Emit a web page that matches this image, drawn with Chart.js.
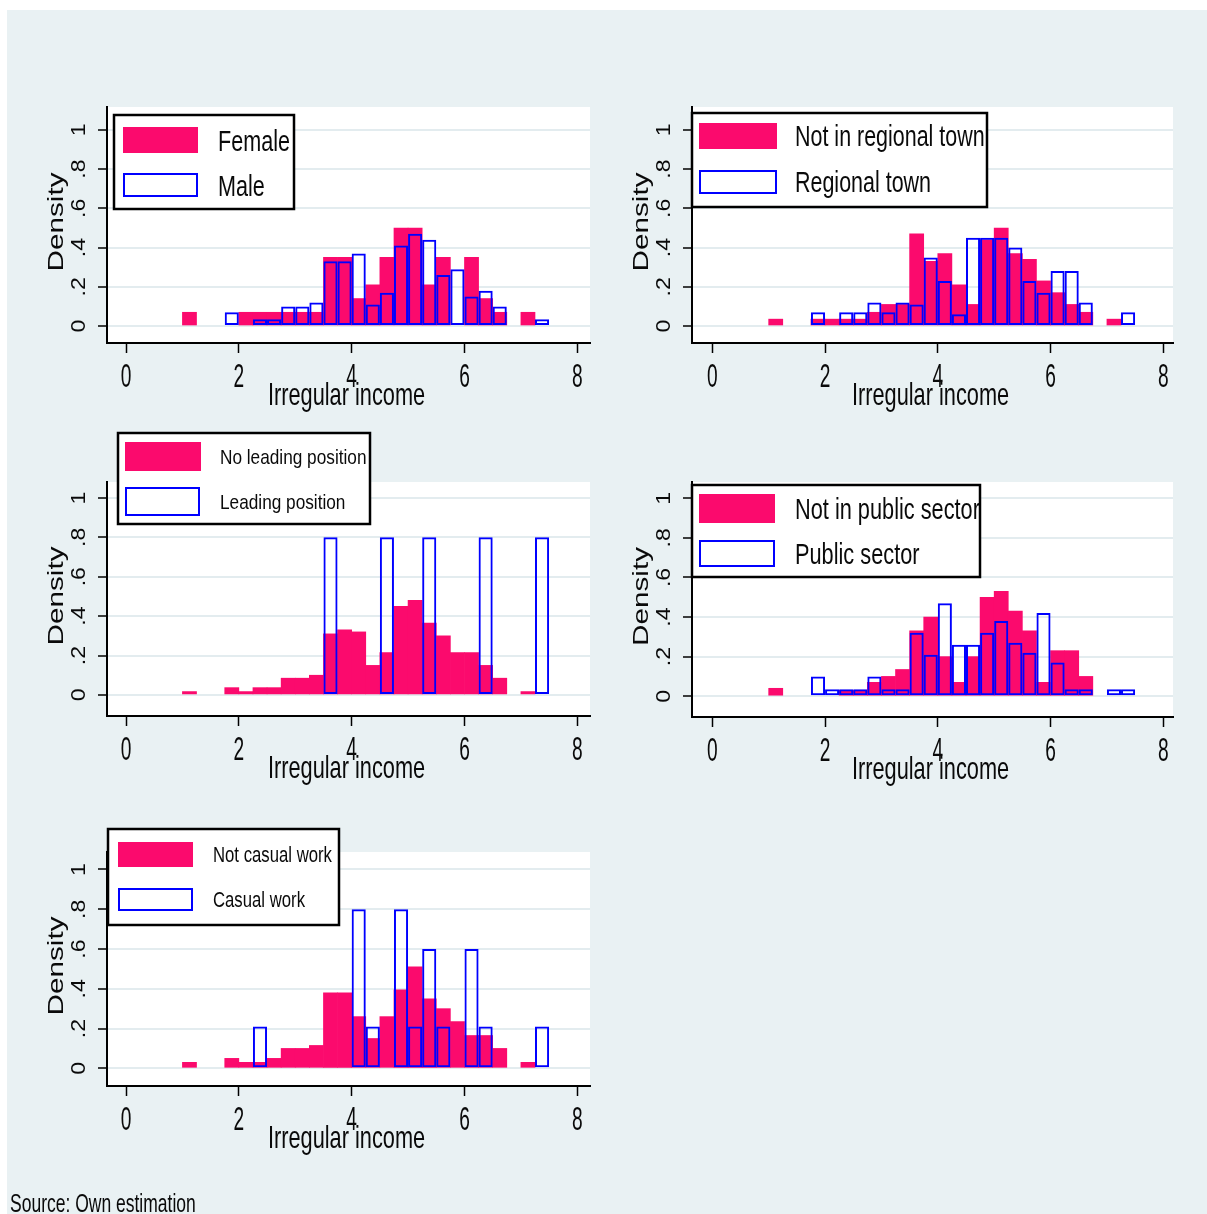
<!DOCTYPE html>
<html>
<head>
<meta charset="utf-8">
<script src="https://cdn.jsdelivr.net/npm/chart.js@4.4.1/dist/chart.umd.min.js"></script>
<style>
html,body{margin:0;padding:0;background:#ffffff;}
#page{position:relative;width:1207px;height:1214px;overflow:hidden;background:#ffffff;}
#bg{position:absolute;left:7px;top:10px;width:1200px;height:1204px;background:#e9f1f3;}
canvas{position:absolute;}
</style>
</head>
<body>
<div id="page">
<div id="bg"></div>
<canvas id="c1"></canvas>
<canvas id="c2"></canvas>
<canvas id="c3"></canvas>
<canvas id="c4"></canvas>
<canvas id="c5"></canvas>
</div>
<script>
// ---------------- data ----------------
const BIN_CENTERS = [1.125,1.375,1.625,1.875,2.125,2.375,2.625,2.875,3.125,3.375,3.625,3.875,4.125,4.375,4.625,4.875,5.125,5.375,5.625,5.875,6.125,6.375,6.625,6.875,7.125,7.375];
const X_TICKS = [0,2,4,6,8];
const X_TICK_LABELS = ['0','2','4','6','8'];
const Y_TICKS = [0,0.2,0.4,0.6,0.8,1];
const Y_TICK_LABELS = ['0','.2','.4','.6','.8','1'];
const X_TITLE = 'Irregular income';
const Y_TITLE = 'Density';
const SOURCE_NOTE = 'Source: Own estimation';

const FEMALE       = [0.07,0,0,0,0.07,0.07,0.07,0.07,0.07,0.07,0.35,0.35,0.14,0.21,0.35,0.50,0.50,0.21,0.35,0,0.35,0.14,0.07,0,0.07,0];
const MALE         = [0,0,0,0.07,0,0.035,0.035,0.10,0.10,0.12,0.33,0.33,0.37,0.11,0.17,0.41,0.47,0.44,0.26,0.29,0.15,0.18,0.10,0,0,0.035];
const NOT_REGIONAL = [0.035,0,0,0.035,0.035,0.035,0.035,0.07,0.11,0.11,0.47,0.33,0.37,0.21,0.11,0.44,0.50,0.37,0.34,0.23,0.17,0.11,0.07,0,0.035,0];
const REGIONAL     = [0,0,0,0.07,0,0.07,0.07,0.12,0.07,0.12,0.11,0.35,0.23,0.06,0.45,0.45,0.45,0.40,0.23,0.17,0.28,0.28,0.12,0,0,0.07];
const NO_LEADING   = [0.017,0,0,0.037,0.017,0.037,0.037,0.085,0.085,0.10,0.31,0.33,0.32,0.15,0.215,0.45,0.48,0.365,0.30,0.215,0.215,0.15,0.085,0,0.017,0];
const LEADING      = [0,0,0,0,0,0,0,0,0,0,0.80,0,0,0,0.80,0,0,0.80,0,0,0,0.80,0,0,0,0.80];
const NOT_PUBLIC   = [0.04,0,0,0,0,0.03,0.03,0.07,0.10,0.135,0.33,0.40,0.20,0.07,0.20,0.50,0.53,0.43,0.33,0.07,0.23,0.23,0.10,0,0,0];
const PUBLIC       = [0,0,0,0.10,0.035,0.035,0.035,0.10,0.035,0.035,0.32,0.21,0.47,0.26,0.26,0.32,0.38,0.27,0.22,0.42,0.17,0.035,0.035,0,0.035,0.035];
const NOT_CASUAL   = [0.03,0,0,0.05,0.03,0.03,0.05,0.10,0.10,0.115,0.38,0.38,0.26,0.15,0.26,0.395,0.51,0.35,0.30,0.235,0.165,0.165,0.10,0,0.03,0];
const CASUAL       = [0,0,0,0,0,0.21,0,0,0,0,0,0,0.80,0.21,0,0.80,0.21,0.60,0.21,0,0.60,0.21,0,0,0,0.21];

// ---------------- style ----------------
const PINK = '#fb0a6d';
const BLUE = '#0000ff';
const GRID = '#e3ecef';
const FONT = "'Liberation Sans', Arial, sans-serif";
const NONE = 'rgba(0,0,0,0)';

function txt(ctx, s, x, y, size, sx, align, rot) {
  ctx.save();
  ctx.translate(x, y);
  if (rot) ctx.rotate(-Math.PI / 2);
  ctx.scale(sx, 1);
  ctx.font = size + 'px ' + FONT;
  ctx.fillStyle = '#0a0a0a';
  ctx.textAlign = align;
  ctx.textBaseline = 'alphabetic';
  ctx.fillText(s, 0, 0);
  ctx.restore();
}

const PANELS = [
  {id:'c1', canvas:{left:0,top:90,width:600,height:330}, plot:{left:107,top:107,right:590,bottom:343},
   x:[-0.337,8.225], y:[-0.0867,1.117], pink:FEMALE, blue:MALE, names:['Female','Male'],
   legend:{box:[114,115,294,209], s1:[123,127,198,153], s2:[123,173,198,197], tx:218, size:30, sx:0.72}},
  {id:'c2', canvas:{left:600,top:90,width:607,height:330}, plot:{left:692,top:107,right:1173,bottom:343},
   x:[-0.36,8.172], y:[-0.0867,1.117], pink:NOT_REGIONAL, blue:REGIONAL, names:['Not in regional town','Regional town'],
   legend:{box:[692,113,987,207], s1:[699,123,777,149], s2:[699,170,777,194], tx:795, size:29, sx:0.74}},
  {id:'c3', canvas:{left:0,top:425,width:600,height:370}, plot:{left:107,top:482,right:590,bottom:716},
   x:[-0.337,8.225], y:[-0.107,1.081], pink:NO_LEADING, blue:LEADING, names:['No leading position','Leading position'],
   legend:{box:[118,433,370,524], s1:[125,442,201,471], s2:[125,487,200,516], tx:220, size:21, sx:0.82}},
  {id:'c4', canvas:{left:600,top:425,width:607,height:370}, plot:{left:692,top:482,right:1173,bottom:717},
   x:[-0.36,8.172], y:[-0.105,1.082], pink:NOT_PUBLIC, blue:PUBLIC, names:['Not in public sector','Public sector'],
   legend:{box:[692,485,980,577], s1:[699,494,775,523], s2:[699,540,775,567], tx:795, size:29, sx:0.75}},
  {id:'c5', canvas:{left:0,top:800,width:600,height:414}, plot:{left:107,top:852,right:590,bottom:1086},
   x:[-0.337,8.225], y:[-0.089,1.088], pink:NOT_CASUAL, blue:CASUAL, names:['Not casual work','Casual work'],
   legend:{box:[108,829,339,925], s1:[118,842,193,867], s2:[118,888,193,911], tx:213, size:22, sx:0.76},
   note:{x:10, y:1212, size:25, sx:0.7}}
];

function positive(c) { return c.raw && c.raw.y > 0; }

function makePanel(p) {
  const cv = document.getElementById(p.id);
  cv.style.left = p.canvas.left + 'px';
  cv.style.top = p.canvas.top + 'px';
  cv.width = p.canvas.width; cv.height = p.canvas.height;
  cv.style.width = p.canvas.width + 'px'; cv.style.height = p.canvas.height + 'px';
  const ox = p.canvas.left, oy = p.canvas.top;
  const yW = p.plot.left - ox;
  const xH = oy + p.canvas.height - p.plot.bottom;
  const padTop = p.plot.top - oy;
  const padRight = ox + p.canvas.width - p.plot.right;

  const plugin = {
    id: 'panelDeco',
    beforeDraw(chart) {
      const {ctx, chartArea: a} = chart;
      ctx.save();
      ctx.fillStyle = '#ffffff';
      ctx.fillRect(a.left, a.top, a.right - a.left, a.bottom - a.top);
      ctx.restore();
    },
    afterDraw(chart) {
      const {ctx, chartArea: a, scales} = chart;
      const xs = scales.x, ys = scales.y;
      X_TICKS.forEach((v, i) => txt(ctx, X_TICK_LABELS[i], xs.getPixelForValue(v), a.bottom + 44, 33, 0.58, 'center', false));
      txt(ctx, X_TITLE, (a.left + a.right) / 2 - 2, a.bottom + 62, 32, 0.68, 'center', false);
      Y_TICKS.forEach((v, i) => txt(ctx, Y_TICK_LABELS[i], a.left - 22, ys.getPixelForValue(v), 21, 1.1, 'center', true));
      txt(ctx, Y_TITLE, a.left - 44, (a.top + a.bottom) / 2 - 3, 22, 1.35, 'center', true);
      const L = p.legend;
      const b = L.box.map((v, i) => v - (i % 2 === 0 ? ox : oy));
      const s1 = L.s1.map((v, i) => v - (i % 2 === 0 ? ox : oy));
      const s2 = L.s2.map((v, i) => v - (i % 2 === 0 ? ox : oy));
      ctx.save();
      ctx.fillStyle = '#ffffff';
      ctx.fillRect(b[0], b[1], b[2] - b[0], b[3] - b[1]);
      ctx.fillStyle = PINK;
      ctx.fillRect(s1[0], s1[1], s1[2] - s1[0], s1[3] - s1[1]);
      ctx.strokeStyle = BLUE; ctx.lineWidth = 2;
      ctx.strokeRect(s2[0] + 1, s2[1] + 1, s2[2] - s2[0] - 2, s2[3] - s2[1] - 2);
      ctx.beginPath(); ctx.rect(b[0], b[1], b[2] - b[0], b[3] - b[1]); ctx.clip();
      const tx = L.tx - ox;
      txt(ctx, p.names[0], tx, (s1[1] + s1[3]) / 2 + 0.36 * L.size, L.size, L.sx, 'left', false);
      txt(ctx, p.names[1], tx, (s2[1] + s2[3]) / 2 + 0.36 * L.size, L.size, L.sx, 'left', false);
      ctx.restore();
      ctx.save();
      ctx.strokeStyle = '#000000'; ctx.lineWidth = 2.5;
      ctx.strokeRect(b[0], b[1], b[2] - b[0], b[3] - b[1]);
      ctx.restore();
      if (p.note) txt(ctx, SOURCE_NOTE, p.note.x - ox, p.note.y - oy, p.note.size, p.note.sx, 'left', false);
    }
  };

  new Chart(cv, {
    type: 'bar',
    data: {
      datasets: [
        {label: p.names[0], data: BIN_CENTERS.map((x, i) => ({x: x, y: p.pink[i]})),
         backgroundColor: c => positive(c) ? PINK : NONE,
         inflateAmount: c => positive(c) ? 0.33 : 0,
         borderWidth: 0, order: 2},
        {label: p.names[1], data: BIN_CENTERS.map((x, i) => ({x: x, y: p.blue[i]})),
         backgroundColor: NONE, borderColor: c => positive(c) ? BLUE : NONE,
         inflateAmount: 0,
         borderWidth: c => positive(c) ? 2 : 0, borderSkipped: false, order: 1}
      ]
    },
    options: {
      responsive: false, animation: false, events: [],
      layout: {padding: {left: 0, top: padTop, right: padRight, bottom: 0}},
      datasets: {bar: {grouped: false, barPercentage: 1, categoryPercentage: 1}},
      plugins: {legend: {display: false}, tooltip: {enabled: false}, title: {display: false}},
      scales: {
        x: {
          type: 'linear', min: p.x[0], max: p.x[1], offset: false,
          afterBuildTicks: s => { s.ticks = X_TICKS.map(v => ({value: v})); },
          afterFit: s => { s.height = xH; },
          ticks: {display: false},
          grid: {drawOnChartArea: false, drawTicks: true, tickLength: 10, tickColor: '#000', tickWidth: 1.5, offset: false},
          border: {display: true, color: '#000', width: 2}
        },
        y: {
          type: 'linear', min: p.y[0], max: p.y[1],
          afterBuildTicks: s => { s.ticks = Y_TICKS.map(v => ({value: v})); },
          afterFit: s => { s.width = yW; },
          ticks: {display: false},
          grid: {drawOnChartArea: true, color: GRID, lineWidth: 2, drawTicks: true, tickLength: 9, tickColor: '#000', tickWidth: 1.5},
          border: {display: true, color: '#000', width: 2}
        }
      }
    },
    plugins: [plugin]
  });
}

PANELS.forEach(makePanel);
</script>
</body>
</html>
